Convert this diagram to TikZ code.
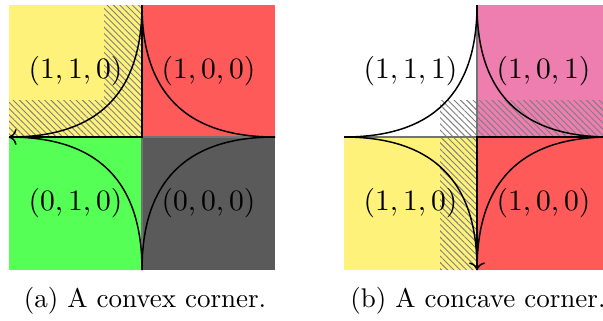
\documentclass[tikz,border=0pt]{standalone}
\usetikzlibrary{patterns.meta,calc,arrows.meta}
\definecolor{qyellow}{RGB}{255,242,122}
\definecolor{qred}{RGB}{255,90,90}
\definecolor{qgreen}{RGB}{85,255,85}
\definecolor{qdark}{RGB}{90,90,90}
\definecolor{qpink}{RGB}{238,125,176}
\begin{document}
\begin{tikzpicture}[x=0.3704pt,y=-0.3704pt,
  thickedge/.style={line width=1pt},
  thinedge/.style={line width=0.4pt,draw=black!55},
  cornerline/.style={line width=0.55pt},
  hatch/.style={pattern={Lines[angle=-45,distance=1.65pt,line width=0.35pt]},pattern color=gray},
  lab/.style={inner sep=0pt,font=\fontsize{10.95}{13}\selectfont},
  captext/.style={anchor=base,inner sep=0pt}]
\clip (0,0) rectangle (603,320);
% ---------- panel (a)
\coordinate (aC) at (142,137);
\coordinate (aT) at (142,5);
\coordinate (aB) at (142,270);
\coordinate (aL) at (9,137);
\coordinate (aR) at (275,137);
\fill[qyellow] (9,5) rectangle (aC);
\fill[qred] (aT) rectangle (aR);
\fill[qgreen] (aL) rectangle (aB);
\fill[qdark] (aC) rectangle (275,270);
\fill[hatch] (9,100) -- (104,100) -- (104,5) -- (aT) -- (aC) -- (aL) -- cycle;
\draw[thinedge] (aC) -- (aB);
\draw[thinedge] (aC) -- (aR);
\draw[thickedge] (aT) -- (aC) -- (aL);
\draw[cornerline,->] (aT) .. controls ($(aT)!0.667!(aC)$) and ($(aL)!0.667!(aC)$) .. (aL);
\draw[cornerline] (aT) .. controls ($(aT)!0.667!(aC)$) and ($(aR)!0.667!(aC)$) .. (aR);
\draw[cornerline] (aL) .. controls ($(aL)!0.667!(aC)$) and ($(aB)!0.667!(aC)$) .. (aB);
\draw[cornerline] (aB) .. controls ($(aB)!0.667!(aC)$) and ($(aR)!0.667!(aC)$) .. (aR);
\node[lab] (a110) at (75.5,71) {$(1,1,0)$};
\node[lab] (a100) at (208.5,71) {$(1,0,0)$};
\node[lab] (a010) at (75.5,203.5) {$(0,1,0)$};
\node[lab] (a000) at (208.5,203.5) {$(0,0,0)$};
\node[captext] (capa) at (145,307) {(a) A convex corner.};
% ---------- panel (b)
\coordinate (bC) at (477,137);
\coordinate (bT) at (477,5);
\coordinate (bB) at (477,270);
\coordinate (bL) at (344,137);
\coordinate (bR) at (610,137);
\fill[white] (344,5) rectangle (bC);
\fill[qpink] (bT) rectangle (bR);
\fill[qyellow] (bL) rectangle (bB);
\fill[qred] (bC) rectangle (610,270);
\fill[hatch] (440,100) -- (610,100) -- (bR) -- (bC) -- (bB) -- (440,270) -- cycle;
\draw[thinedge] (bC) -- (bT);
\draw[thinedge] (bC) -- (bL);
\draw[thickedge] (bB) -- (bC) -- (bR);
\draw[cornerline] (bT) .. controls ($(bT)!0.667!(bC)$) and ($(bL)!0.667!(bC)$) .. (bL);
\draw[cornerline] (bT) .. controls ($(bT)!0.667!(bC)$) and ($(bR)!0.667!(bC)$) .. (bR);
\draw[cornerline,->] (bL) .. controls ($(bL)!0.667!(bC)$) and ($(bB)!0.667!(bC)$) .. (bB);
\draw[cornerline] (bB) .. controls ($(bB)!0.667!(bC)$) and ($(bR)!0.667!(bC)$) .. (bR);
\node[lab] (b111) at (410.5,71) {$(1,1,1)$};
\node[lab] (b101) at (543.5,71) {$(1,0,1)$};
\node[lab] (b110) at (410.5,203.5) {$(1,1,0)$};
\node[lab] (b100) at (543.5,203.5) {$(1,0,0)$};
\node[captext] (capb) at (478,307) {(b) A concave corner.};
\end{tikzpicture}
\end{document}
